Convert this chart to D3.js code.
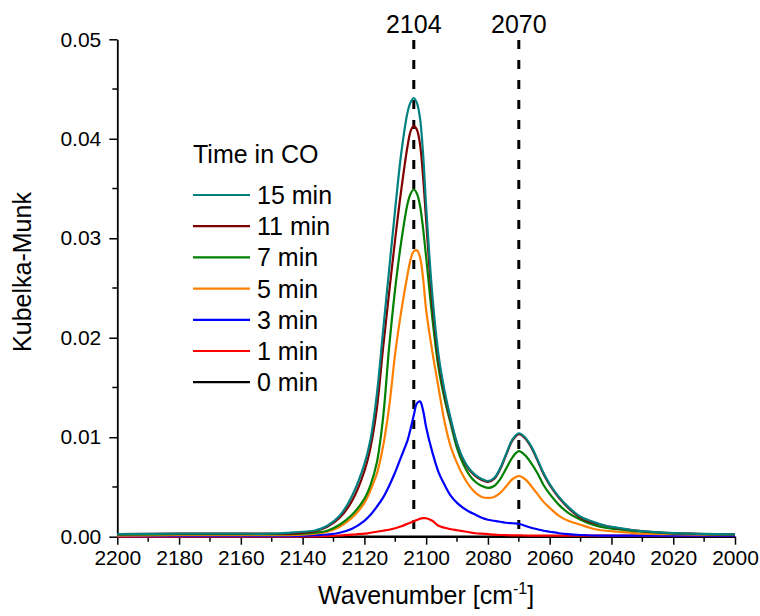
<!DOCTYPE html>
<html>
<head>
<meta charset="utf-8">
<script src="https://cdn.jsdelivr.net/npm/d3@7"></script>
<style>
  body { margin: 0; background: #fff; }
  svg { font-family: "Liberation Sans", Arial, sans-serif; }
</style>
</head>
<body>
<script>
// wavenumber grid (cm-1)
var wavenumbers = [2200, 2180, 2160, 2150, 2144, 2140, 2136, 2132, 2128, 2124, 2120, 2118, 2116, 2114, 2112, 2110, 2108, 2106, 2105, 2104, 2103, 2102, 2101, 2100, 2098, 2096, 2094, 2092, 2090, 2088, 2086, 2084, 2082, 2080, 2078, 2076, 2074, 2072, 2070, 2068, 2066, 2064, 2062, 2060, 2057, 2054, 2050, 2046, 2042, 2038, 2034, 2030, 2020, 2010, 2000];

var km0 = [0, 0, 0, 0, 0, 0, 0, 0, 0, 0, 0, 0, 0, 0, 0, 0, 0, 0, 0, 0, 0, 0, 0, 0, 0, 0, 0, 0, 0, 0, 0, 0, 0, 0, 0, 0, 0, 0, 0, 0, 0, 0, 0, 0, 0, 0, 0, 0, 0, 0, 0, 0, 0, 0, 0];
var km1 = [0, 0, 0, 0, 0, 0.00002, 0.00004, 0.00008, 0.00012, 0.0002, 0.0003, 0.0004, 0.0005, 0.0006, 0.0007, 0.00085, 0.00105, 0.0013, 0.00142, 0.00155, 0.00168, 0.0018, 0.00186, 0.00185, 0.0016, 0.0011, 0.0009, 0.00075, 0.00065, 0.00055, 0.00045, 0.00035, 0.0003, 0.00025, 0.0002, 0.00017, 0.00015, 0.00014, 0.00013, 0.00012, 0.00011, 0.0001, 0.0001, 0.0001, 0.0001, 0.0001, 0.0001, 0.0001, 0.0001, 0.0001, 0.0001, 0.0001, 0.0001, 0.0001, 0.0001];
var km3 = [0.00005, 0.00005, 0.00005, 0.00005, 0.00005, 0.0001, 0.00015, 0.00022, 0.0004, 0.0008, 0.0016, 0.0022, 0.003, 0.0039, 0.0051, 0.0065, 0.0081, 0.0097, 0.0109, 0.0122, 0.0134, 0.0136, 0.0127, 0.011, 0.0085, 0.0065, 0.0052, 0.0041, 0.0034, 0.0029, 0.0025, 0.0022, 0.0019, 0.0017, 0.0016, 0.0015, 0.0014, 0.00135, 0.0013, 0.0011, 0.0009, 0.00075, 0.0006, 0.0005, 0.00035, 0.00025, 0.00017, 0.00012, 0.0001, 0.0001, 0.0001, 0.0001, 0.0001, 0.0001, 0.0001];
var km5 = [0.0001, 0.00015, 0.00015, 0.00015, 0.00015, 0.0002, 0.0003, 0.0005, 0.001, 0.0019, 0.0034, 0.0047, 0.0063, 0.009, 0.013, 0.0185, 0.0228, 0.0264, 0.0279, 0.0287, 0.0288, 0.0281, 0.026, 0.0228, 0.0186, 0.015, 0.0115, 0.009, 0.0074, 0.0061, 0.0051, 0.0044, 0.004, 0.0039, 0.004, 0.0044, 0.0051, 0.0058, 0.0061, 0.0058, 0.0051, 0.0043, 0.0035, 0.0029, 0.0021, 0.0016, 0.0012, 0.0008, 0.0006, 0.0005, 0.0004, 0.0003, 0.00025, 0.0002, 0.0002];
var km7 = [0.0002, 0.00025, 0.00025, 0.00025, 0.00025, 0.0003, 0.0004, 0.0006, 0.0012, 0.0022, 0.0038, 0.0052, 0.0074, 0.0118, 0.019, 0.025, 0.0298, 0.0335, 0.0345, 0.0349, 0.0345, 0.0333, 0.031, 0.0281, 0.022, 0.017, 0.0138, 0.0113, 0.0089, 0.0073, 0.0062, 0.0055, 0.0051, 0.0049, 0.0051, 0.0058, 0.0069, 0.008, 0.0086, 0.0082, 0.0074, 0.0064, 0.0052, 0.0043, 0.0032, 0.0024, 0.0017, 0.0012, 0.0009, 0.00075, 0.0006, 0.0005, 0.00033, 0.00026, 0.00022];
var km11 = [0.00025, 0.0003, 0.0003, 0.0003, 0.0003, 0.0004, 0.00055, 0.001, 0.0019, 0.0036, 0.0066, 0.009, 0.0128, 0.0188, 0.0245, 0.03, 0.035, 0.0393, 0.0408, 0.0413, 0.0409, 0.0395, 0.0362, 0.0318, 0.0234, 0.0178, 0.0143, 0.0116, 0.0093, 0.0077, 0.0067, 0.0061, 0.0057, 0.0055, 0.0058, 0.0068, 0.0083, 0.0097, 0.0103, 0.0099, 0.009, 0.0077, 0.0063, 0.0052, 0.0039, 0.0029, 0.0019, 0.0014, 0.0011, 0.00085, 0.0007, 0.00055, 0.00035, 0.00027, 0.00023];
var km15 = [0.00025, 0.0003, 0.0003, 0.0003, 0.0004, 0.0005, 0.00062, 0.0011, 0.0021, 0.0041, 0.0073, 0.0098, 0.0142, 0.0205, 0.0268, 0.033, 0.0387, 0.0427, 0.0437, 0.0441, 0.0436, 0.0421, 0.0385, 0.0332, 0.0243, 0.0183, 0.0146, 0.0118, 0.0094, 0.0078, 0.0068, 0.0062, 0.0058, 0.0056, 0.0059, 0.0069, 0.0084, 0.0098, 0.0104, 0.01, 0.0091, 0.0078, 0.0064, 0.0053, 0.004, 0.003, 0.002, 0.0015, 0.0011, 0.0009, 0.0007, 0.00057, 0.00036, 0.00028, 0.00024];

var seriesNames = ["0 min", "1 min", "3 min", "5 min", "7 min", "11 min", "15 min"];
var seriesValues = [km0, km1, km3, km5, km7, km11, km15];
var seriesColors = ["#000000", "#ff0000", "#0000ff", "#ff8000", "#008000", "#800000", "#008080"];

var xTicks = [2200, 2180, 2160, 2140, 2120, 2100, 2080, 2060, 2040, 2020, 2000];
var yTicks = [0, 0.01, 0.02, 0.03, 0.04, 0.05];
var peakLines = [2104, 2070];

(function () {
  var W = 760, H = 616;
  var plotL = 117.3, plotR = 735, plotT = 39.3, plotB = 536.7;
  var bigFont = "25px", tickFont = "21px";

  var svg = d3.select("body").append("svg").attr("width", W).attr("height", H);

  var x = d3.scaleLinear().domain([2200, 2000]).range([plotL, plotR]);
  var y = d3.scaleLinear().domain([0, 0.05]).range([plotB, plotT]);

  // minor ticks
  var xMinor = d3.range(2190, 2000, -20);
  var yMinor = d3.range(0.005, 0.05, 0.01);

  svg.append("g").selectAll("line").data(xMinor).enter().append("line")
    .attr("x1", function (d) { return x(d); }).attr("x2", function (d) { return x(d); })
    .attr("y1", plotB).attr("y2", plotB + 5)
    .attr("stroke", "#000").attr("stroke-width", 1.5);
  svg.append("g").selectAll("line").data(yMinor).enter().append("line")
    .attr("y1", function (d) { return y(d); }).attr("y2", function (d) { return y(d); })
    .attr("x1", plotL).attr("x2", plotL - 5)
    .attr("stroke", "#000").attr("stroke-width", 1.5);

  var xAxis = svg.append("g").attr("transform", "translate(0," + plotB + ")")
    .call(d3.axisBottom(x).tickValues(xTicks).tickSize(8).tickSizeOuter(0).tickFormat(d3.format("d")).tickPadding(5));
  var yAxis = svg.append("g").attr("transform", "translate(" + plotL + ",0)")
    .call(d3.axisLeft(y).tickValues(yTicks).tickSize(8).tickSizeOuter(0).tickFormat(d3.format(".2f")).tickPadding(8));

  [xAxis, yAxis].forEach(function (g) {
    g.select(".domain").attr("stroke", "#000").attr("stroke-width", 1.8);
    g.selectAll(".tick line").attr("stroke", "#000").attr("stroke-width", 1.5);
    g.selectAll(".tick text").attr("fill", "#000").style("font-size", tickFont)
      .style("font-family", "Liberation Sans, Arial, sans-serif");
  });

  // dashed peak markers
  svg.append("g").selectAll("line").data(peakLines).enter().append("line")
    .attr("x1", function (d) { return x(d); }).attr("x2", function (d) { return x(d); })
    .attr("y1", 40).attr("y2", plotB)
    .attr("stroke", "#000").attr("stroke-width", 3).attr("stroke-dasharray", "9,11");
  svg.append("g").selectAll("text").data(peakLines).enter().append("text")
    .attr("x", function (d) { return x(d); }).attr("y", 33)
    .attr("text-anchor", "middle").style("font-size", bigFont)
    .text(function (d) { return d; });

  // spectra
  var line = d3.line()
    .x(function (d) { return x(d[0]); })
    .y(function (d) { return y(d[1]); })
    .curve(d3.curveCatmullRom.alpha(0.5));

  seriesValues.forEach(function (vals, i) {
    var pts = wavenumbers.map(function (w, j) { return [w, vals[j]]; });
    svg.append("path").datum(pts)
      .attr("d", line)
      .attr("fill", "none")
      .attr("stroke", seriesColors[i])
      .attr("stroke-width", 2.2)
      .attr("stroke-linejoin", "round");
  });

  // axis titles
  svg.append("text").attr("x", (plotL + plotR) / 2).attr("y", 604)
    .attr("text-anchor", "middle").style("font-size", bigFont)
    .html('Wavenumber [cm<tspan dy="-10" font-size="16px">-1</tspan><tspan dy="10">]</tspan>');
  svg.append("text").attr("transform", "translate(31,272) rotate(-90)")
    .attr("text-anchor", "middle").style("font-size", bigFont)
    .text("Kubelka-Munk");

  // legend
  var lg = svg.append("g");
  lg.append("text").attr("x", 193).attr("y", 163).style("font-size", bigFont).text("Time in CO");
  var order = [6, 5, 4, 3, 2, 1, 0];
  order.forEach(function (k, r) {
    var cy = 195 + r * 31.2;
    lg.append("line").attr("x1", 193).attr("x2", 250).attr("y1", cy).attr("y2", cy)
      .attr("stroke", seriesColors[k]).attr("stroke-width", 2.2);
    lg.append("text").attr("x", 257).attr("y", cy + 9).style("font-size", bigFont).text(seriesNames[k]);
  });
})();
</script>
</body>
</html>
